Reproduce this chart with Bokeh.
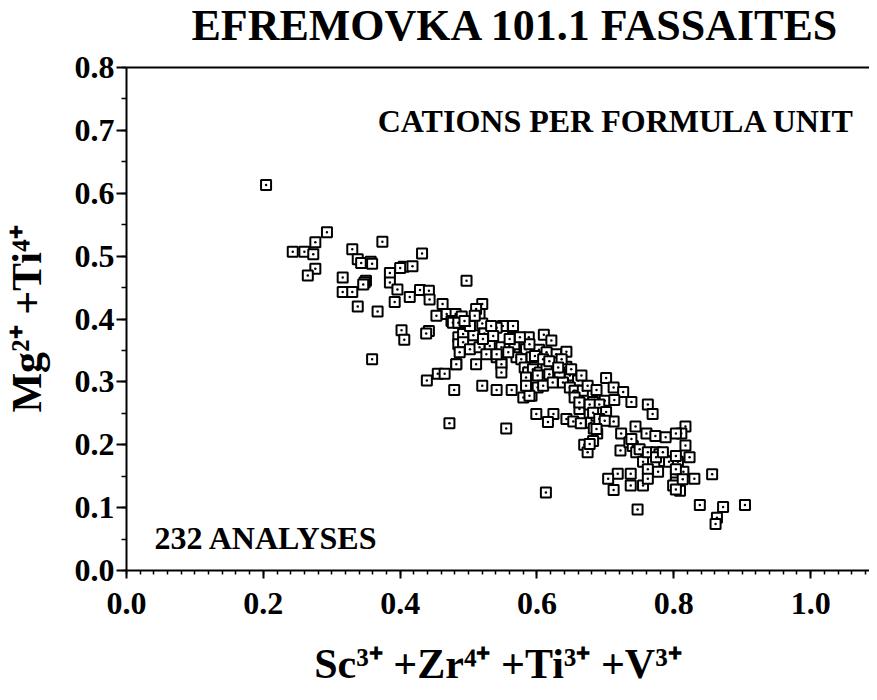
from bokeh.plotting import figure
from bokeh.layouts import column
from bokeh.models import Range1d, LinearAxis, SingleIntervalTicker, FixedTicker, PrintfTickFormatter, Label, ColumnDataSource
from bokeh.embed import file_html
from bokeh.resources import INLINE

TITLE = "EFREMOVKA 101.1 FASSAITES"
NOTE_TOP = "CATIONS PER FORMULA UNIT"
NOTE_BOTTOM = "232 ANALYSES"
X_LABEL = "Sc\u00b3\u207a +Zr\u2074\u207a +Ti\u00b3\u207a +V\u00b3\u207a"
Y_LABEL = "Mg\u00b2\u207a +Ti\u2074\u207a"

X_MAX = 1.086
Y_MAX = 0.8

# Sc3+ + Zr4+ + Ti3+ + V3+  (cations per formula unit)
sc_zr_ti_v = [
    0.204, 0.293, 0.276, 0.243, 0.260, 0.273, 0.276, 0.265,
    0.374, 0.330, 0.338, 0.343, 0.357, 0.359, 0.432, 0.405, 0.418, 0.385, 0.385, 0.316,
    0.350, 0.348, 0.316, 0.330, 0.396, 0.429, 0.442, 0.338, 0.367, 0.392, 0.414, 0.443,
    0.453, 0.402, 0.406, 0.442, 0.438, 0.359, 0.439, 0.455, 0.465, 0.482, 0.479,
    0.462, 0.468, 0.481, 0.490, 0.497, 0.400, 0.346, 0.475, 0.485,
    0.520, 0.516, 0.511, 0.520, 0.550, 0.565, 0.541, 0.523, 0.507, 0.492, 0.536, 0.565, 0.588, 0.610, 0.621,
    0.477, 0.485,
    0.485, 0.492, 0.502, 0.516, 0.531, 0.548, 0.560, 0.567, 0.582, 0.584, 0.592, 0.570, 0.577, 0.603, 0.628, 0.643, 0.623, 0.541, 0.548, 0.487,
    0.482, 0.511, 0.548, 0.582, 0.587, 0.594, 0.604, 0.614, 0.618, 0.643, 0.631, 0.636, 0.648, 0.660,
    0.584, 0.601, 0.580, 0.592, 0.601, 0.638, 0.648, 0.655, 0.660, 0.667, 0.674, 0.687, 0.701, 0.712, 0.726,
    0.682, 0.699, 0.713, 0.691, 0.667, 0.662, 0.677, 0.679, 0.687, 0.696, 0.701, 0.712, 0.738, 0.762, 0.769,
    0.520, 0.541, 0.563, 0.589, 0.548,
    0.472, 0.555, 0.599, 0.624, 0.616, 0.643, 0.653, 0.664, 0.683, 0.688, 0.669, 0.674, 0.682,
    0.723, 0.744, 0.760, 0.773, 0.788, 0.817, 0.811, 0.722, 0.735, 0.740, 0.745, 0.750, 0.755, 0.762, 0.774,
    0.779, 0.786, 0.793, 0.806, 0.803, 0.823, 0.817, 0.803,
    0.718, 0.737, 0.762, 0.777, 0.704, 0.712, 0.737, 0.755, 0.762, 0.803, 0.814, 0.830, 0.809, 0.803, 0.799, 0.856,
    0.613, 0.747, 0.838, 0.872, 0.904, 0.863, 0.861,
    0.509, 0.614, 0.633, 0.655, 0.662, 0.677, 0.682, 0.691, 0.699, 0.687, 0.677, 0.738, 0.774, 0.784,
    0.803, 0.803, 0.813, 0.584, 0.609, 0.623, 0.521, 0.526, 0.541, 0.558, 0.560, 0.589, 0.597, 0.609,
    0.618, 0.636, 0.631, 0.650, 0.665, 0.502, 0.494, 0.533, 0.575,
]

# Mg2+ + Ti4+  (cations per formula unit)
mg_ti = [
    0.613, 0.538, 0.522, 0.507, 0.507, 0.503, 0.480, 0.469,
    0.523, 0.511, 0.495, 0.489, 0.491, 0.488, 0.504, 0.483, 0.484, 0.473, 0.458, 0.466,
    0.461, 0.458, 0.443, 0.443, 0.447, 0.446, 0.445, 0.420, 0.412, 0.427, 0.435, 0.431,
    0.405, 0.382, 0.367, 0.381, 0.377, 0.336, 0.302, 0.313, 0.313, 0.328, 0.287,
    0.424, 0.408, 0.408, 0.404, 0.461, 0.481, 0.455, 0.397, 0.371,
    0.424, 0.408, 0.416, 0.393, 0.389, 0.389, 0.386, 0.377, 0.374, 0.376, 0.373, 0.371, 0.371, 0.375, 0.366,
    0.394, 0.394,
    0.360, 0.363, 0.352, 0.355, 0.357, 0.355, 0.357, 0.360, 0.355, 0.352, 0.339, 0.339, 0.336, 0.351, 0.344, 0.348, 0.331, 0.339, 0.331, 0.347,
    0.328, 0.328, 0.328, 0.323, 0.315, 0.320, 0.315, 0.326, 0.312, 0.324, 0.312, 0.302, 0.310, 0.302,
    0.307, 0.310, 0.275, 0.278, 0.291, 0.299, 0.291, 0.286, 0.278, 0.286, 0.294, 0.287, 0.306, 0.291, 0.284,
    0.268, 0.270, 0.271, 0.264, 0.262, 0.257, 0.251, 0.235, 0.246, 0.251, 0.252, 0.237, 0.268, 0.264, 0.249,
    0.294, 0.287, 0.287, 0.278, 0.315,
    0.234, 0.226, 0.249, 0.249, 0.236, 0.241, 0.237, 0.234, 0.226, 0.218, 0.200, 0.188, 0.206,
    0.218, 0.229, 0.218, 0.214, 0.212, 0.229, 0.218, 0.191, 0.204, 0.198, 0.188, 0.193, 0.173, 0.188, 0.188,
    0.185, 0.174, 0.173, 0.173, 0.182, 0.180, 0.199, 0.218,
    0.154, 0.154, 0.161, 0.157, 0.146, 0.128, 0.135, 0.135, 0.146, 0.153, 0.157, 0.146, 0.127, 0.140, 0.135, 0.153,
    0.124, 0.097, 0.104, 0.101, 0.104, 0.084, 0.074,
    0.405, 0.347, 0.315, 0.275, 0.267, 0.264, 0.251, 0.241, 0.238, 0.225, 0.201, 0.209, 0.180, 0.188,
    0.161, 0.129, 0.145, 0.294, 0.294, 0.299, 0.368, 0.344, 0.344, 0.347, 0.368, 0.360, 0.341, 0.336,
    0.333, 0.336, 0.323, 0.320, 0.310, 0.389, 0.397, 0.389, 0.371,
]

n = min(len(sc_zr_ti_v), len(mg_ti))
src = ColumnDataSource(data=dict(x=sc_zr_ti_v[:n], y=mg_ti[:n]))

SERIF = "Liberation Serif"

W = 869
BL, BR = 125, 0
FW = W - BL - BR

# ---- title strip (separate small figure; its frame spans the main frame's width) ----
TH = 50
tfig = figure(width=W, height=TH, output_backend="svg", toolbar_location=None, title=None,
              x_range=Range1d(0, FW), y_range=Range1d(0, TH),
              min_border_left=BL, min_border_right=BR, min_border_top=0, min_border_bottom=0,
              x_axis_type=None, y_axis_type=None,
              background_fill_color="white", border_fill_color="white")
tfig.outline_line_color = None
tfig.grid.visible = False
# title: left edge at window x 198, vertical middle at window y 33
tfig.add_layout(Label(x=198 - (8 + BL), y=TH - (33 - 8), text=TITLE, text_font=SERIF,
                      text_font_style="bold", text_font_size="44px", text_color="black",
                      text_align="left", text_baseline="middle"))

# ---- main plot ----
H = 692 - TH
BT, BB = 75 - 8 - TH, 122
FH = H - BT - BB
TOP0 = 8 + TH  # window y of the main canvas top

p = figure(width=W, height=H, output_backend="svg", toolbar_location=None, title=None,
           x_range=Range1d(0, X_MAX), y_range=Range1d(0, Y_MAX),
           min_border_left=BL, min_border_right=BR, min_border_top=BT, min_border_bottom=BB,
           background_fill_color="white", border_fill_color="white")
p.outline_line_color = None
p.xgrid.grid_line_color = None
p.ygrid.grid_line_color = None

xa = p.xaxis[0]
xa.ticker = SingleIntervalTicker(interval=0.2, num_minor_ticks=10)
xa.formatter = PrintfTickFormatter(format="%.1f")
ya = p.yaxis[0]
ya.ticker = SingleIntervalTicker(interval=0.1, num_minor_ticks=2)
ya.formatter = PrintfTickFormatter(format="%.1f")

for ax in (xa, ya):
    ax.axis_line_width = 2
    ax.axis_line_color = "black"
    ax.major_tick_line_width = 2
    ax.minor_tick_line_width = 1.5
    ax.major_tick_line_color = "black"
    ax.minor_tick_line_color = "black"
    ax.major_tick_in = 0
    ax.minor_tick_in = 0
    ax.major_label_text_font = SERIF
    ax.major_label_text_font_style = "bold"
    ax.major_label_text_font_size = "32px"
    ax.major_label_text_color = "black"
    ax.axis_label_text_font = SERIF
    ax.axis_label_text_font_style = "bold"
    ax.axis_label_text_color = "black"

xa.major_tick_out = 8
xa.minor_tick_out = 4
xa.major_label_standoff = 14
xa.axis_label = X_LABEL
xa.axis_label_text_font_size = "42px"
xa.axis_label_standoff = 24

ya.major_tick_out = 10
ya.minor_tick_out = 5
ya.major_label_standoff = 2
ya.axis_label = Y_LABEL
ya.axis_label_text_font_size = "42px"
ya.axis_label_standoff = 22

top = LinearAxis(ticker=FixedTicker(ticks=[]), axis_line_width=2, axis_line_color="black",
                 major_tick_line_color=None, minor_tick_line_color=None,
                 major_tick_out=0, minor_tick_out=0, major_label_standoff=0,
                 major_label_text_alpha=0)
p.add_layout(top, "above")

p.scatter("x", "y", source=src, marker="square_dot", size=10, line_color="black",
          line_width=2, fill_color="white")

# helpers: window pixel -> data coordinates
def wx(px):
    return (px - (8 + BL)) * X_MAX / FW

def wy(py):
    return (TOP0 + BT + FH - py) * Y_MAX / FH

def add_text(px, py, text, size, align="left"):
    p.add_layout(Label(x=wx(px), y=wy(py), x_units="data", y_units="data", text=text,
                       text_font=SERIF, text_font_style="bold", text_font_size=f"{size}px",
                       text_color="black", text_align=align, text_baseline="alphabetic"))

add_text(862, 128, NOTE_TOP, 32, align="right")
add_text(161, 545, NOTE_BOTTOM, 32, align="left")

layout = column(tfig, p, spacing=0)
open("out.html", "w").write(file_html(layout, INLINE))
